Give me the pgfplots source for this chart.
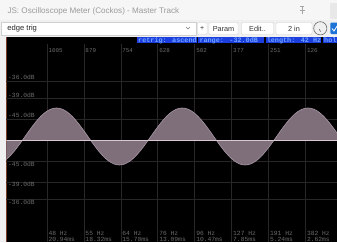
\documentclass[border=0pt]{standalone}
\usepackage{fontspec}
\usepackage{pgfplots}
\pgfplotsset{compat=1.18}
\setmainfont{Liberation Sans}
\newfontfamily\monof{Liberation Mono}
\definecolor{gridc}{RGB}{40,38,38}
\definecolor{labc}{RGB}{108,108,108}
\definecolor{wavefill}{RGB}{126,111,123}
\definecolor{waveline}{RGB}{170,152,167}
\definecolor{centerc}{RGB}{215,200,210}
\definecolor{hdrblue}{RGB}{28,62,222}
\definecolor{hdrtext}{RGB}{110,165,255}
\definecolor{uibg}{RGB}{240,240,240}
\definecolor{titlebg}{RGB}{246,246,246}
\definecolor{btnborder}{RGB}{208,208,208}
\definecolor{titletext}{RGB}{155,155,155}
\definecolor{brownl}{RGB}{120,62,42}
\definecolor{checkblue}{RGB}{30,115,215}
\begin{document}
\begin{tikzpicture}
\useasboundingbox (0,0) rectangle (337pt,242pt);
\clip (0,0) rectangle (337pt,242pt);
\begin{scope}[x=1pt,y=-1pt,yshift=242pt]
 \fill[uibg] (0,0) rectangle (337,37);
 \fill[titlebg] (0,0) rectangle (337,19.5);
 \node[anchor=west,inner sep=0,text=titletext,font=\fontsize{8.1}{9}\selectfont] at (7.3,11.2) {JS: Oscilloscope Meter (Cockos) - Master Track};
 % pin icon
 \draw[gray!70,line width=0.5pt] (300,6.5) -- (304,6.5) (302,6.5) -- (302,10.5) (299.5,10.5) -- (304.5,10.5) (302,10.5) -- (302,13.5);
 % close button
 \fill[gray!18] (329.5,3) rectangle (337,19);
 % combobox
 \filldraw[fill=white,draw=btnborder,line width=0.4pt] (1,21.8) rectangle (196.3,35);
 \node[anchor=west,inner sep=0,text=black!85,font=\fontsize{7.6}{8}\selectfont] at (7.2,28.3) {edge trig};
 \draw[gray,line width=0.5pt] (186,27) -- (188,29) -- (190,27);
 % buttons
 \filldraw[fill=white,draw=btnborder,line width=0.4pt,rounded corners=1pt] (197.5,22.5) rectangle (207,34.5);
 \node[inner sep=0,font=\fontsize{7}{8}\selectfont,text=black!80] at (202.2,28.5) {+};
 \filldraw[fill=white,draw=btnborder,line width=0.4pt,rounded corners=1pt] (209,22.5) rectangle (238,34.5);
 \node[inner sep=0,font=\fontsize{7.3}{8}\selectfont,text=black!80] at (223.5,28.6) {Param};
 \filldraw[fill=white,draw=btnborder,line width=0.4pt,rounded corners=1pt] (241.5,22.5) rectangle (273.5,34.5);
 \node[inner sep=0,font=\fontsize{7.3}{8}\selectfont,text=black!80] at (257.5,28.6) {Edit..};
 \filldraw[fill=white,draw=btnborder,line width=0.4pt,rounded corners=1pt] (276,22.5) rectangle (312,34.5);
 \node[inner sep=0,font=\fontsize{7.3}{8}\selectfont,text=black!80] at (294,28.6) {2 in};
 % knob
 \draw[gray!80!black,line width=0.6pt] (320.3,28.3) circle[radius=6.6];
 \draw[gray!80!black,line width=0.6pt] (319.3,29.3) -- (320.6,31.6);
 % checkbox
 \fill[checkblue,rounded corners=1pt] (330.3,22.5) rectangle (339,34);
 \draw[white,line width=0.8pt] (332,28.5) -- (334,31) -- (337.5,25.5);
 % black plot region
 \fill[uibg] (0,37) rectangle (6.5,242);
 \fill[black] (6.5,37) rectangle (337,242);
 \draw[brownl,line width=0.7pt] (6.2,37) -- (6.2,242);
\end{scope}

\begin{axis}[
  at={(6.5pt,0pt)}, anchor=south west,
  scale only axis, width=330.5pt, height=198pt,
  xmin=0.39, xmax=23.81, x dir=reverse,
  ymin=-27.29, ymax=25.84,
  axis line style={draw=none},
  major tick length=0pt,
  grid=major,
  major grid style={gridc, line width=0.7pt},
  xtick={2.617,5.234,7.851,10.468,13.085,15.702,18.319,20.936},
  xticklabels={{382 Hz\\2.62ms},{191 Hz\\5.24ms},{127 Hz\\7.85ms},{96 Hz\\10.47ms},{76 Hz\\13.09ms},{64 Hz\\15.70ms},{55 Hz\\18.32ms},{48 Hz\\20.94ms}},
  xticklabel style={anchor=south west, align=left, inner sep=0pt, xshift=1.3pt, yshift=0.6pt,
    text=labc, font=\monof\fontsize{6.3}{5.9}\selectfont},
  ytick={5.62,11.22,15.85},
  yticklabels={-45.0dB,-39.0dB,-36.0dB},
  yticklabel style={anchor=south west, inner sep=0pt, xshift=1.5pt, yshift=1.2pt,
    text=labc, font=\monof\fontsize{6.3}{6}\selectfont},
  extra y ticks={-5.62,-11.22,-15.85},
  extra y tick labels={-45.0dB,-39.0dB,-36.0dB},
  extra y tick style={grid=major, yticklabel style={anchor=north west, yshift=-1.2pt}},
]
\addplot[draw=none, fill=wavefill, smooth] coordinates {
(0.215,1.020) (0.586,3.000) (0.958,4.845) (1.329,6.429) (1.700,7.645) (2.072,8.409) (2.443,8.670) (2.814,8.409) (3.186,7.645) (3.557,6.429) (3.928,4.845) (4.300,3.000) (4.671,1.020) (5.042,-0.960) (5.414,-2.805) (5.785,-4.389) (6.156,-5.605) (6.528,-6.369) (6.899,-6.630) (7.270,-6.369) (7.642,-5.605) (8.013,-4.389) (8.384,-2.805) (8.756,-0.960) (9.127,1.020) (9.498,3.000) (9.870,4.845) (10.241,6.429) (10.612,7.645) (10.984,8.409) (11.355,8.670) (11.726,8.409) (12.098,7.645) (12.469,6.429) (12.840,4.845) (13.212,3.000) (13.583,1.020) (13.954,-0.960) (14.326,-2.805) (14.697,-4.389) (15.068,-5.605) (15.440,-6.369) (15.811,-6.630) (16.182,-6.369) (16.554,-5.605) (16.925,-4.389) (17.296,-2.805) (17.668,-0.960) (18.039,1.020) (18.410,3.000) (18.782,4.845) (19.153,6.429) (19.524,7.645) (19.896,8.409) (20.267,8.670) (20.638,8.409) (21.010,7.645) (21.381,6.429) (21.752,4.845) (22.124,3.000) (22.495,1.020) (22.866,-0.960) (23.238,-2.805) (23.609,-4.389) (23.980,-5.605)
} \closedcycle;
\addplot[waveline, line width=0.6pt, smooth] coordinates {
(0.215,1.020) (0.586,3.000) (0.958,4.845) (1.329,6.429) (1.700,7.645) (2.072,8.409) (2.443,8.670) (2.814,8.409) (3.186,7.645) (3.557,6.429) (3.928,4.845) (4.300,3.000) (4.671,1.020) (5.042,-0.960) (5.414,-2.805) (5.785,-4.389) (6.156,-5.605) (6.528,-6.369) (6.899,-6.630) (7.270,-6.369) (7.642,-5.605) (8.013,-4.389) (8.384,-2.805) (8.756,-0.960) (9.127,1.020) (9.498,3.000) (9.870,4.845) (10.241,6.429) (10.612,7.645) (10.984,8.409) (11.355,8.670) (11.726,8.409) (12.098,7.645) (12.469,6.429) (12.840,4.845) (13.212,3.000) (13.583,1.020) (13.954,-0.960) (14.326,-2.805) (14.697,-4.389) (15.068,-5.605) (15.440,-6.369) (15.811,-6.630) (16.182,-6.369) (16.554,-5.605) (16.925,-4.389) (17.296,-2.805) (17.668,-0.960) (18.039,1.020) (18.410,3.000) (18.782,4.845) (19.153,6.429) (19.524,7.645) (19.896,8.409) (20.267,8.670) (20.638,8.409) (21.010,7.645) (21.381,6.429) (21.752,4.845) (22.124,3.000) (22.495,1.020) (22.866,-0.960) (23.238,-2.805) (23.609,-4.389) (23.980,-5.605)
};
\addplot[centerc, line width=0.8pt] coordinates {(0.39,0) (23.81,0)};
\end{axis}

\begin{axis}[
  at={(6.5pt,0pt)}, anchor=south west,
  scale only axis, width=330.5pt, height=198pt,
  xmin=0.39, xmax=23.81, x dir=reverse,
  ymin=-27.29, ymax=25.84,
  hide y axis,
  axis x line*=top,
  axis line style={draw=none},
  major tick length=0pt,
  xticklabel pos=right,
  xtick={2.617,5.234,7.851,10.468,13.085,15.702,18.319,20.936},
  xticklabels={126,251,377,502,628,754,879,1005},
  xticklabel style={anchor=north west, inner sep=0pt, xshift=1.3pt, yshift=-4.6pt,
    text=labc, font=\monof\fontsize{5.9}{6}\selectfont},
]
\end{axis}

\begin{scope}[x=1pt,y=-1pt,yshift=242pt]
 \fill[hdrblue] (137,37.3) rectangle (196.5,43.3);
 \fill[hdrblue] (198.3,37.3) rectangle (263.8,43.3);
 \fill[hdrblue] (265.6,37.3) rectangle (321.2,43.3);
 \fill[hdrblue] (323,37.3) rectangle (345,43.3);
 \begin{scope}[every node/.style={anchor=west,inner sep=0,text=hdrtext,font=\monof\bfseries\fontsize{6.8}{7}\selectfont}]
 \node at (138,40.4) {retrig: ascend};
 \node at (199.3,40.4) {range: -32.0dB};
 \node at (266.6,40.4) {length: 42 Hz};
 \node at (324,40.4) {hol};
 \end{scope}
\end{scope}
\end{tikzpicture}
\end{document}
